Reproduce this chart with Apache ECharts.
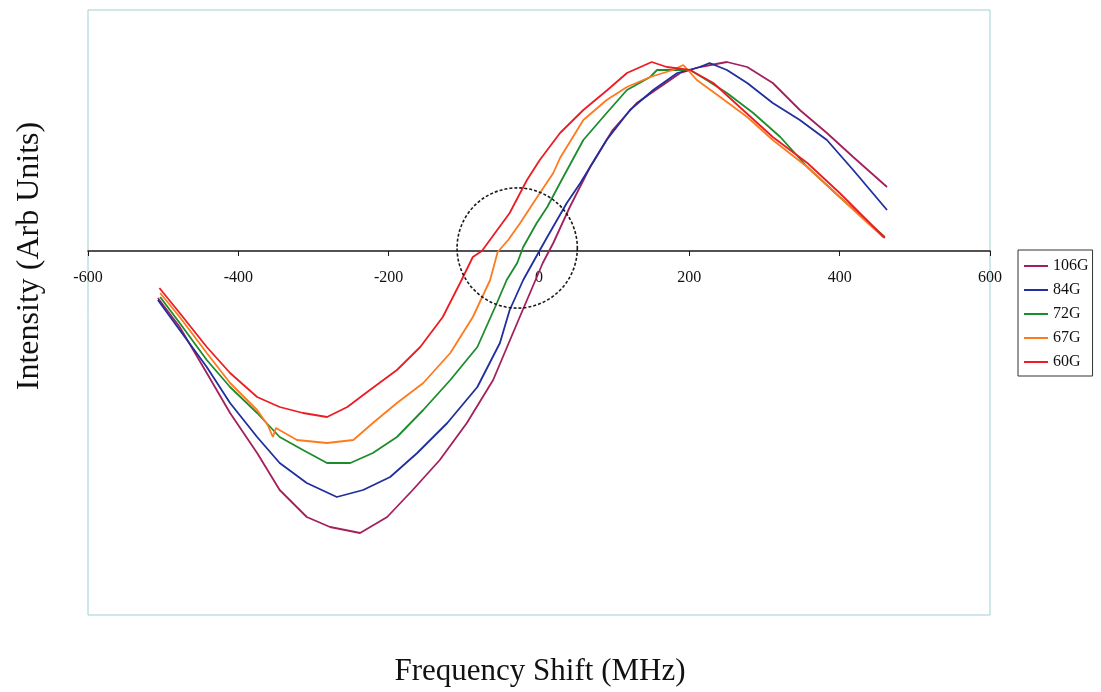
<!DOCTYPE html>
<html>
<head>
<meta charset="utf-8">
<script src="https://cdn.jsdelivr.net/npm/echarts@6/dist/echarts.min.js"></script>
<style>
html,body{margin:0;padding:0;background:#fff;}
#chart{width:1101px;height:692px;}
</style>
</head>
<body>
<div id="chart"></div>
<script>
// Tick labels of the frequency axis (MHz)
const xTicks = [-600, -400, -200, 0, 200, 400, 600];
const seriesNames = ['106G', '84G', '72G', '67G', '60G'];
const seriesColors = ['#a3205c', '#1f2f9e', '#1c8c2c', '#ff7a1c', '#ec1c24'];

// [frequency shift MHz, intensity arb. units]
const s106G = [[-507,-47],[-478,-76],[-442,-122],[-411,-162],[-375,-202],[-345,-239],[-309,-266],[-278,-276],[-258,-279],[-238,-282],[-202,-266],[-168,-239],[-132,-209],[-96,-172],[-61,-129],[-29,-72],[-12,-42],[5,-12],[19,8],[41,44],[68,84],[98,121],[130,148],[161,164],[188,178],[214,184],[250,189],[277,184],[311,168],[347,141],[383,118],[418,94],[463,64]];
const s84G = [[-507,-49],[-478,-79],[-442,-116],[-411,-152],[-375,-186],[-345,-212],[-309,-232],[-269,-246],[-234,-239],[-198,-226],[-162,-202],[-122,-172],[-82,-136],[-52,-92],[-39,-59],[-21,-29],[-1,-2],[11,14],[24,31],[37,48],[55,68],[90,111],[121,141],[152,161],[184,178],[214,184],[227,188],[250,181],[277,168],[311,148],[347,131],[383,111],[418,81],[463,41]];
const s72G = [[-504,-46],[-478,-72],[-442,-109],[-411,-136],[-375,-162],[-345,-186],[-314,-199],[-282,-212],[-251,-212],[-221,-202],[-189,-186],[-154,-159],[-118,-129],[-82,-96],[-56,-52],[-43,-29],[-29,-12],[-21,4],[-3,28],[11,44],[28,68],[59,111],[90,138],[117,161],[148,174],[157,181],[201,181],[223,171],[250,158],[285,138],[321,114],[357,84],[400,54],[460,14]];
const s67G = [[-504,-42],[-478,-66],[-442,-102],[-411,-132],[-375,-159],[-361,-174],[-354,-186],[-350,-177],[-322,-189],[-282,-192],[-247,-189],[-221,-172],[-189,-152],[-154,-132],[-118,-102],[-88,-66],[-65,-29],[-55,-1],[-41,11],[-25,28],[-5,51],[19,78],[28,93],[59,131],[90,151],[117,164],[148,174],[178,181],[192,186],[210,171],[241,154],[277,134],[311,111],[357,84],[400,54],[430,33],[458,14]];
const s60G = [[-505,-37],[-478,-62],[-442,-96],[-411,-122],[-375,-146],[-345,-156],[-314,-162],[-282,-166],[-255,-156],[-225,-139],[-189,-119],[-158,-96],[-128,-66],[-105,-32],[-88,-6],[-76,0],[-39,38],[-16,71],[1,91],[28,118],[59,141],[91,161],[117,178],[150,189],[170,184],[201,181],[232,168],[267,144],[311,114],[357,88],[400,58],[436,31],[460,13]];
// dashed circle annotation: centre (MHz, arb) and radius (MHz)
const circleCentre = [-29, 3];
const circleRadius = 80;

const dataSets = [s106G, s84G, s72G, s67G, s60G];

const chart = echarts.init(document.getElementById('chart'));
const serif = 'Liberation Serif, Times New Roman, serif';

const lineSeries = dataSets.map((d, i) => ({
  name: seriesNames[i],
  type: 'line',
  xAxisIndex: 0, yAxisIndex: 0,
  data: d,
  showSymbol: false,
  symbol: 'none',
  smooth: false,
  lineStyle: { color: seriesColors[i], width: 1.8 },
  itemStyle: { color: seriesColors[i] },
  z: 3
}));

lineSeries.push({
  name: 'circle',
  type: 'custom',
  xAxisIndex: 0, yAxisIndex: 0,
  data: [circleCentre],
  z: 4,
  silent: true,
  renderItem: function (params, api) {
    const c = api.coord([api.value(0), api.value(1)]);
    const r = api.size([circleRadius, 0])[0];
    return {
      type: 'circle',
      shape: { cx: c[0], cy: c[1], r: r },
      style: { fill: 'none', stroke: '#1a1a1a', lineWidth: 1.6, lineDash: [3, 2] }
    };
  }
});

chart.setOption({
  animation: false,
  backgroundColor: '#ffffff',
  grid: [
    {
      left: 88, right: 111, top: 10, bottom: 77,
      show: true, borderColor: '#9fcfd0', borderWidth: 1, backgroundColor: 'transparent'
    },
    {
      // upper half of the plot; its bottom edge is the zero line where the frequency axis sits
      left: 88, right: 111, top: 10, bottom: 441, show: false
    }
  ],
  legend: {
    data: seriesNames,
    orient: 'vertical',
    left: 1018, top: 250,
    padding: [8, 4, 6, 6],
    itemGap: 8,
    itemWidth: 24,
    itemHeight: 2,
    icon: 'rect',
    borderColor: '#333',
    borderWidth: 1,
    textStyle: { fontFamily: serif, fontSize: 16, color: '#111' }
  },
  xAxis: [
    {
      type: 'value', gridIndex: 0,
      min: xTicks[0], max: xTicks[xTicks.length - 1], interval: 200,
      show: false
    },
    {
      type: 'value', gridIndex: 1, position: 'bottom',
      min: xTicks[0], max: xTicks[xTicks.length - 1], interval: 200,
      axisLine: { onZero: false, lineStyle: { color: '#1a1a1a', width: 1.6 } },
      axisTick: { show: true, length: 5, lineStyle: { color: '#1a1a1a' } },
      axisLabel: { fontFamily: serif, fontSize: 16, color: '#111', margin: 19 },
      splitLine: { show: false }
    }
  ],
  yAxis: [
    { type: 'value', gridIndex: 0, min: -364, max: 241, show: false, splitLine: { show: false } },
    { type: 'value', gridIndex: 1, min: 0, max: 1, show: false, splitLine: { show: false } }
  ],
  graphic: [
    {
      type: 'text',
      x: 540, y: 672,
      style: { text: 'Frequency Shift (MHz)', font: '31px ' + serif, fill: '#111', align: 'center', verticalAlign: 'middle' }
    },
    {
      type: 'text',
      x: 30, y: 256,
      rotation: Math.PI / 2,
      style: { text: 'Intensity (Arb Units)', font: '32px ' + serif, fill: '#111', align: 'center', verticalAlign: 'middle' }
    }
  ],
  series: lineSeries
});
</script>
</body>
</html>
